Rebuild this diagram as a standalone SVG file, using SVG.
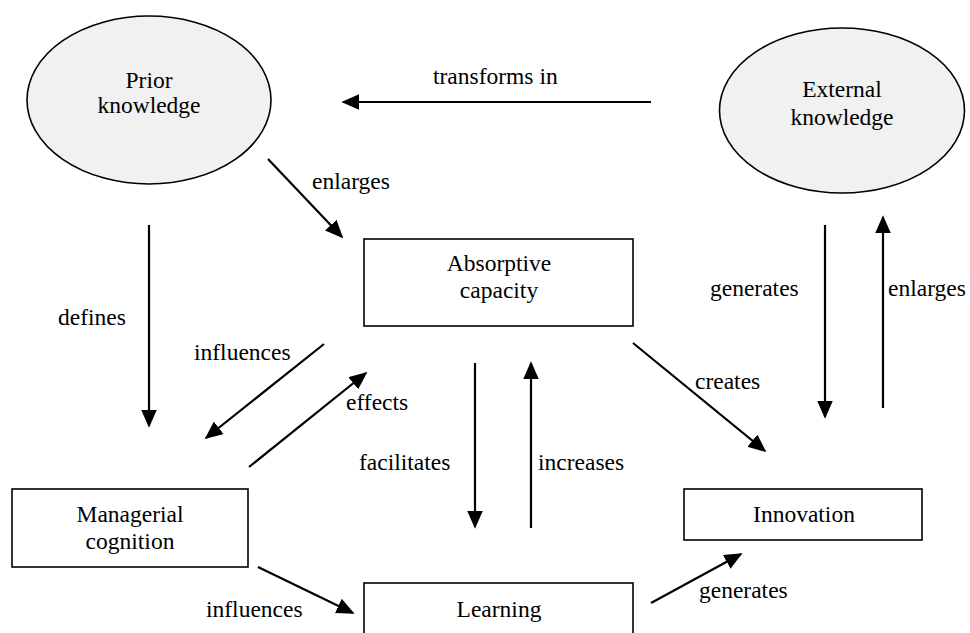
<svg xmlns="http://www.w3.org/2000/svg" width="970" height="633" viewBox="0 0 970 633">
<style>
text{font-family:'Liberation Serif','DejaVu Serif',serif;font-size:23.5px;fill:#000}
.c{text-anchor:middle}
.box{fill:#fff;stroke:#000;stroke-width:1.6}
.ell{fill:#f1f1f1;stroke:#000;stroke-width:1.6}
.arr{stroke:#000;stroke-width:2.2;fill:none;marker-end:url(#ah)}
</style>
<defs>
<marker id="ah" markerUnits="userSpaceOnUse" markerWidth="18" markerHeight="16" viewBox="0 0 16 14" refX="14.5" refY="7" orient="auto">
<path d="M0,0 L16,7 L0,14 Z" fill="#000"/>
</marker>
</defs>
<rect width="970" height="633" fill="#fff"/>
<g id="prior-knowledge" font-family="Liberation Serif, serif">
<ellipse class="ell" cx="149" cy="100" rx="122" ry="84"/>
<text class="c" x="149" y="88">Prior</text>
<text class="c" x="149" y="113">knowledge</text>
</g>
<g id="external-knowledge">
<ellipse class="ell" cx="842" cy="110.5" rx="122.5" ry="82.5"/>
<text class="c" x="842" y="97">External</text>
<text class="c" x="842" y="125">knowledge</text>
</g>
<g id="absorptive-capacity">
<rect class="box" x="364" y="239" width="269" height="87"/>
<text class="c" x="499" y="271">Absorptive</text>
<text class="c" x="499" y="298">capacity</text>
</g>
<g id="managerial-cognition">
<rect class="box" x="12" y="489" width="236" height="78"/>
<text class="c" x="130" y="522">Managerial</text>
<text class="c" x="130" y="549">cognition</text>
</g>
<g id="learning">
<rect class="box" x="364" y="583" width="269" height="70"/>
<text class="c" x="499" y="617">Learning</text>
</g>
<g id="innovation">
<rect class="box" x="684" y="489" width="238" height="51"/>
<text class="c" x="804" y="522">Innovation</text>
</g>
<g id="connectors">
<line class="arr" x1="651" y1="102" x2="343" y2="102"/>
<line class="arr" x1="268" y1="159" x2="342" y2="237"/>
<line class="arr" x1="149" y1="225" x2="149" y2="426"/>
<line class="arr" x1="324" y1="344" x2="206" y2="438"/>
<line class="arr" x1="249" y1="467" x2="366" y2="373"/>
<line class="arr" x1="258" y1="567" x2="353" y2="613"/>
<line class="arr" x1="475" y1="363" x2="475" y2="527"/>
<line class="arr" x1="531" y1="528" x2="531" y2="363"/>
<line class="arr" x1="633" y1="343" x2="765" y2="451"/>
<line class="arr" x1="651" y1="603" x2="741" y2="554"/>
<line class="arr" x1="825" y1="225" x2="825" y2="417"/>
<line class="arr" x1="883" y1="408" x2="883" y2="217"/>
<text x="433" y="84">transforms in</text>
<text x="312" y="189">enlarges</text>
<text x="58" y="325">defines</text>
<text x="194" y="360">influences</text>
<text x="346" y="410">effects</text>
<text x="359" y="470">facilitates</text>
<text x="538" y="470">increases</text>
<text x="695" y="389">creates</text>
<text x="206" y="617">influences</text>
<text x="699" y="598">generates</text>
<text x="710" y="296">generates</text>
<text x="888" y="296">enlarges</text>
</g>
</svg>
